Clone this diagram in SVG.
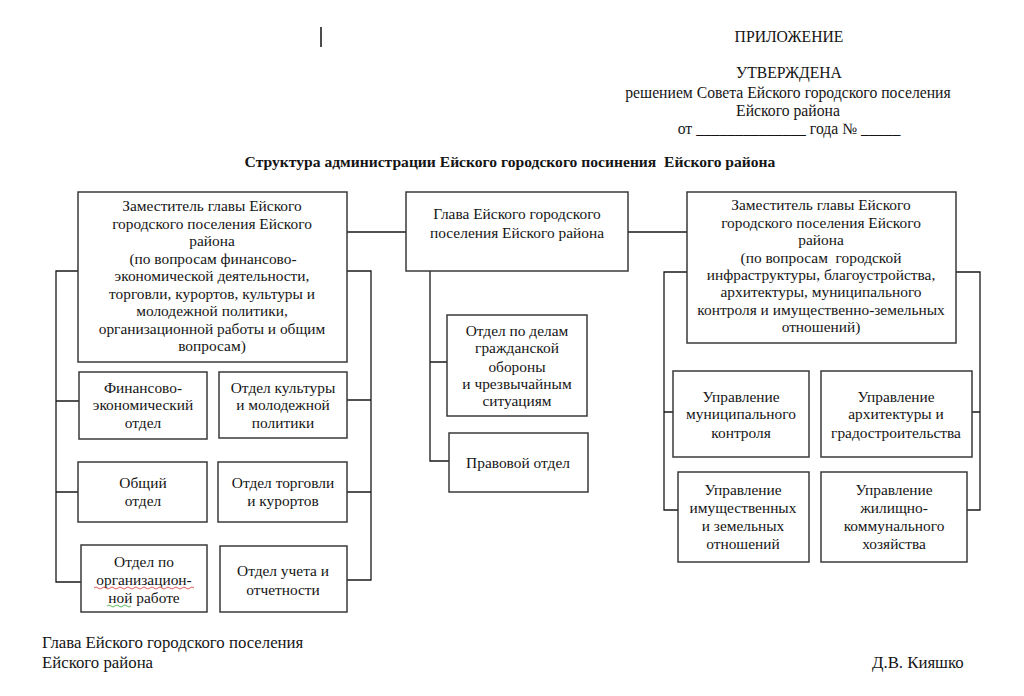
<svg xmlns="http://www.w3.org/2000/svg" width="1024" height="696" viewBox="0 0 1024 696">
<style>
text{font-family:"Liberation Serif","Times New Roman",serif;fill:#151515}
.b{font-size:15.4px;text-anchor:middle}
.h{font-size:15.7px;text-anchor:middle}
.t{font-size:15.6px;font-weight:bold;text-anchor:middle}
.f{font-size:16.8px}
rect{fill:#fff;stroke:#3a3a3a;stroke-width:1.5}
#connectors path{fill:none;stroke:#1a1a1a;stroke-width:1.3}
</style>
<rect x="0" y="0" width="1024" height="696" style="fill:#fff;stroke:none"/>
<line x1="321" y1="27" x2="321" y2="47" stroke="#111" stroke-width="1.5"/>
<g id="header">
<text class="h" x="789" y="42">ПРИЛОЖЕНИЕ</text>
<text class="h" x="789" y="78">УТВЕРЖДЕНА</text>
<text class="h" x="788" y="98">решением Совета Ейского городского поселения</text>
<text class="h" x="788" y="116">Ейского района</text>
<text class="h" x="789" y="134">от ______________ года № _____</text>
<text class="t" x="510" y="167">Структура администрации Ейского городского посинения&#160; Ейского района</text>
</g>
<g id="connectors">
<path d="M347 232H406M628 232H687"/>
<path d="M430 271V461H449M430 362H447"/>
<path d="M78 271H56V582H81M56 401H79M56 492H78"/>
<path d="M347 271H371V580H347M347 400H371M347 492H371"/>
<path d="M687 272H664V510H678M664 412H673"/>
<path d="M956 272H980V510H967M980 412H972"/>
</g>
<g id="deputy-left">
<rect x="78" y="192" width="269" height="170"/>
<text class="b" x="212" y="211">Заместитель главы Ейского</text>
<text class="b" x="212" y="229">городского поселения Ейского</text>
<text class="b" x="212" y="246">района</text>
<text class="b" x="213" y="264">(по вопросам финансово-</text>
<text class="b" x="212" y="281">экономической деятельности,</text>
<text class="b" x="212" y="299">торговли, курортов, культуры и</text>
<text class="b" x="212" y="316">молодежной политики,</text>
<text class="b" x="212" y="334">организационной работы и общим</text>
<text class="b" x="212" y="351">вопросам)</text>
</g>
<g id="head">
<rect x="406" y="192" width="222" height="79"/>
<text class="b" x="517" y="219">Глава Ейского городского</text>
<text class="b" x="517" y="238">поселения Ейского района</text>
</g>
<g id="deputy-right">
<rect x="687" y="192" width="269" height="151"/>
<text class="b" x="821" y="210">Заместитель главы Ейского</text>
<text class="b" x="821" y="228">городского поселения Ейского</text>
<text class="b" x="821" y="245">района</text>
<text class="b" x="821" y="263">(по вопросам&#160; городской</text>
<text class="b" x="821" y="280">инфраструктуры, благоустройства,</text>
<text class="b" x="821" y="297">архитектуры, муниципального</text>
<text class="b" x="821" y="315">контроля и имущественно-земельных</text>
<text class="b" x="821" y="332">отношений)</text>
</g>
<g id="go">
<rect x="447" y="315" width="140" height="101"/>
<text class="b" x="517" y="336">Отдел по делам</text>
<text class="b" x="517" y="353">гражданской</text>
<text class="b" x="517" y="372">обороны</text>
<text class="b" x="517" y="389">и чрезвычайным</text>
<text class="b" x="517" y="406">ситуациям</text>
</g>
<g id="legal">
<rect x="449" y="433" width="139" height="59"/>
<text class="b" x="518" y="468">Правовой отдел</text>
</g>
<g id="fin">
<rect x="79" y="372" width="128" height="67"/>
<text class="b" x="143" y="393">Финансово-</text>
<text class="b" x="143" y="410">экономический</text>
<text class="b" x="143" y="428">отдел</text>
</g>
<g id="culture">
<rect x="219" y="372" width="128" height="66"/>
<text class="b" x="283" y="393">Отдел культуры</text>
<text class="b" x="283" y="410">и молодежной</text>
<text class="b" x="283" y="428">политики</text>
</g>
<g id="general">
<rect x="78" y="462" width="129" height="60"/>
<text class="b" x="143" y="488">Общий</text>
<text class="b" x="143" y="506">отдел</text>
</g>
<g id="trade">
<rect x="218" y="462" width="129" height="60"/>
<text class="b" x="283" y="488">Отдел торговли</text>
<text class="b" x="283" y="506">и курортов</text>
</g>
<g id="org">
<rect x="81" y="545" width="126" height="67"/>
<text class="b" x="144" y="567">Отдел по</text>
<text class="b" x="144" y="585">организацион-</text>
<text class="b" x="144" y="603">ной работе</text>
<path d="M94 588q2-2 4 0t4 0t4 0t4 0t4 0t4 0t4 0t4 0t4 0t4 0t4 0t4 0t4 0t4 0t4 0t4 0t4 0t4 0t4 0t4 0t4 0t4 0t4 0t4 0t4 0" fill="none" stroke="#d33" stroke-width="0.8"/>
<path d="M107 606q2-2 4 0t4 0t4 0t4 0t4 0t4 0" fill="none" stroke="#3a3" stroke-width="0.8"/>
</g>
<g id="accounting">
<rect x="220" y="546" width="127" height="66"/>
<text class="b" x="283" y="576">Отдел учета и</text>
<text class="b" x="283" y="595">отчетности</text>
</g>
<g id="mun-control">
<rect x="673" y="371" width="136" height="86"/>
<text class="b" x="741" y="402">Управление</text>
<text class="b" x="741" y="419">муниципального</text>
<text class="b" x="741" y="438">контроля</text>
</g>
<g id="architecture">
<rect x="821" y="371" width="151" height="86"/>
<text class="b" x="896" y="402">Управление</text>
<text class="b" x="896" y="419">архитектуры и</text>
<text class="b" x="896" y="438">градостроительства</text>
</g>
<g id="property">
<rect x="678" y="472" width="131" height="90"/>
<text class="b" x="743" y="495">Управление</text>
<text class="b" x="743" y="513">имущественных</text>
<text class="b" x="743" y="531">и земельных</text>
<text class="b" x="743" y="549">отношений</text>
</g>
<g id="housing">
<rect x="821" y="472" width="146" height="90"/>
<text class="b" x="894" y="495">Управление</text>
<text class="b" x="894" y="513">жилищно-</text>
<text class="b" x="894" y="531">коммунального</text>
<text class="b" x="894" y="549">хозяйства</text>
</g>
<g id="footer">
<text class="f" x="42" y="648">Глава Ейского городского поселения</text>
<text class="f" x="42" y="668">Ейского района</text>
<text class="f" x="872" y="668">Д.В. Кияшко</text>
</g>
</svg>
